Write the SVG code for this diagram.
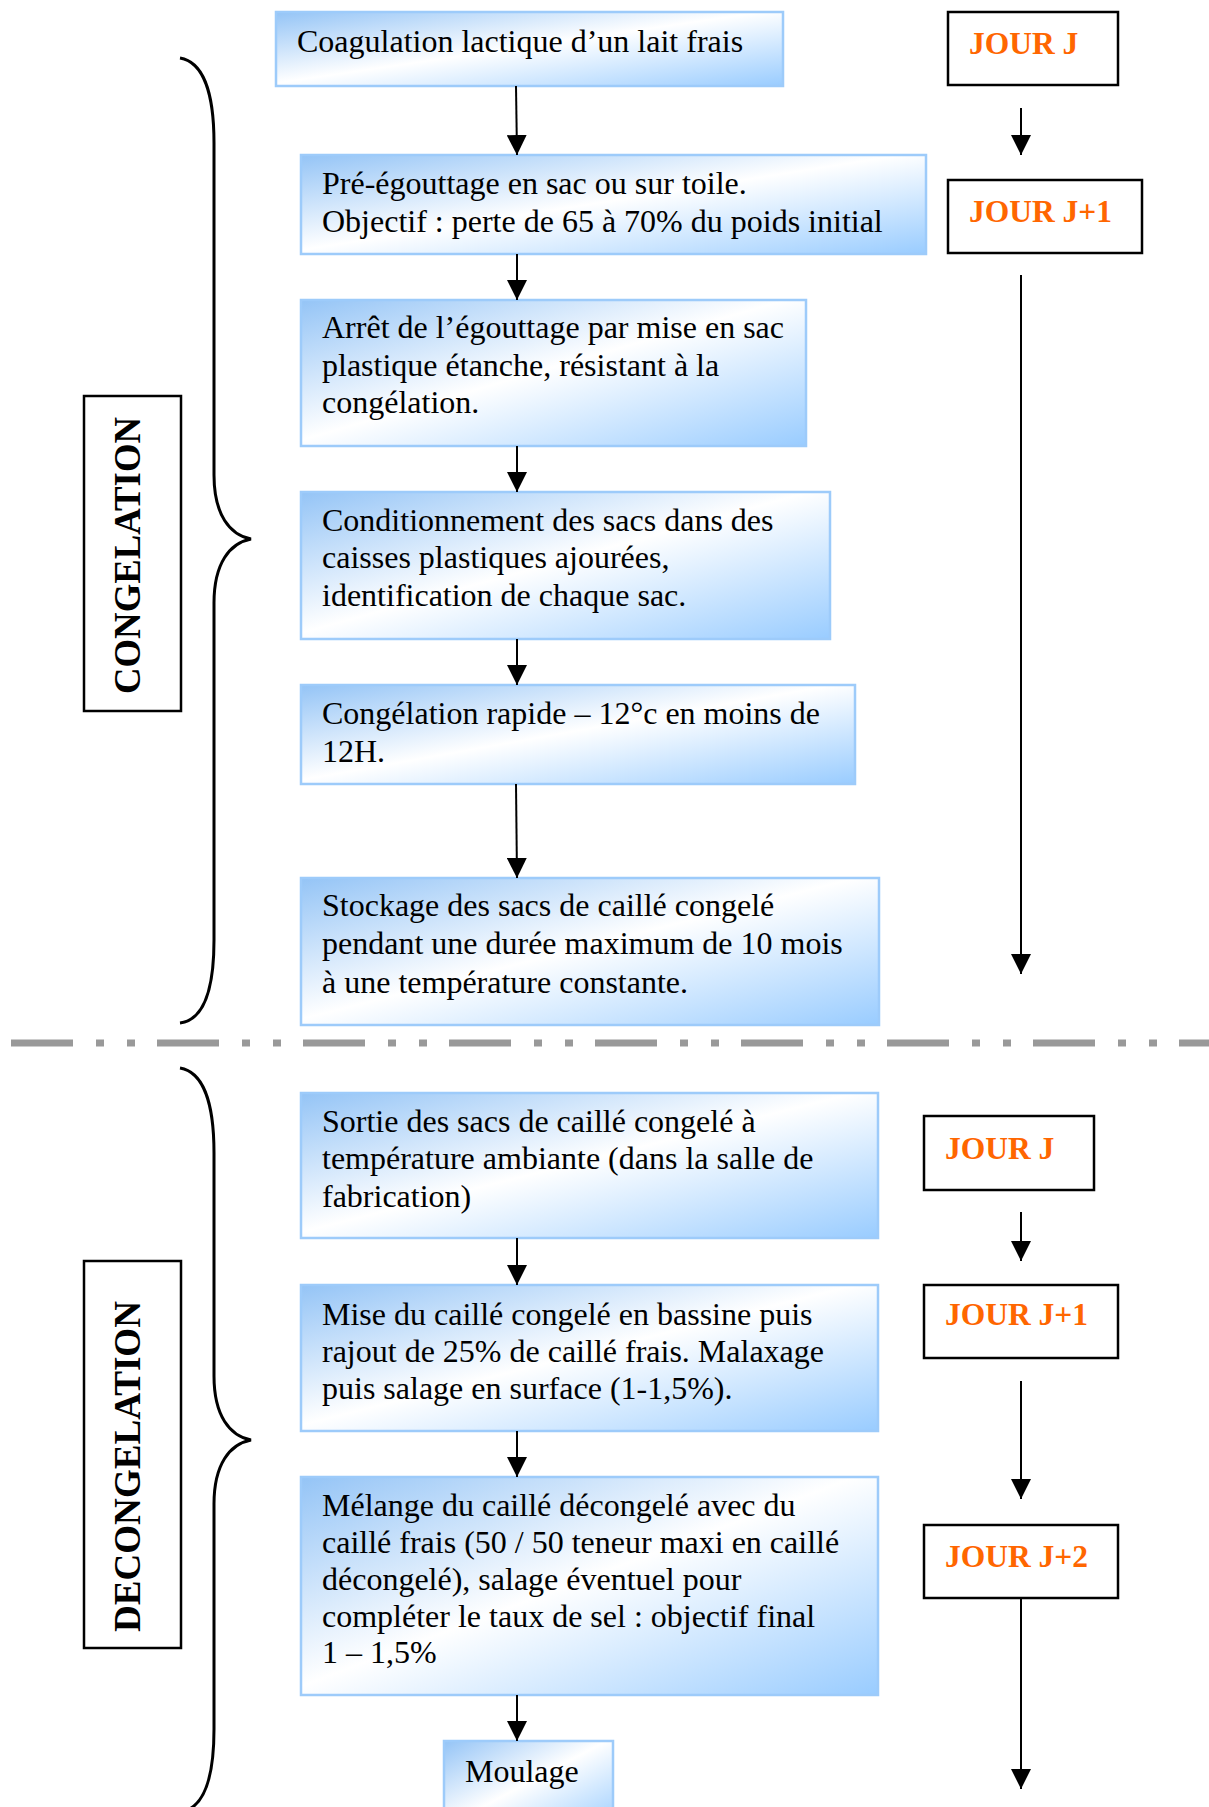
<svg xmlns="http://www.w3.org/2000/svg" width="1209" height="1807" viewBox="0 0 1209 1807">
<defs>
<linearGradient id="g" x1="0" y1="0" x2="1" y2="1">
<stop offset="0" stop-color="#94C4F6"/>
<stop offset="0.48" stop-color="#FFFFFF"/>
<stop offset="1" stop-color="#99CCFF"/>
</linearGradient>
<marker id="ah" markerUnits="userSpaceOnUse" markerWidth="20" markerHeight="20" refX="20" refY="10" orient="auto" viewBox="0 0 20 20">
<path d="M0,0 L20,10 L0,20 z" fill="#000"/>
</marker>
</defs>
<style>
.step{fill:url(#g);stroke:#9DCBFA;stroke-width:2.5}
.t{font-family:"Liberation Serif","Times New Roman",serif;font-size:32px;fill:#000}
.day{fill:#fff;stroke:#000;stroke-width:2.5}
.dt{font-family:"Liberation Serif","Times New Roman",serif;font-size:31.5px;font-weight:bold;fill:#FF6600}
.lab{font-family:"Liberation Serif","Times New Roman",serif;font-size:38px;font-weight:bold;fill:#000}
.lb{fill:#fff;stroke:#000;stroke-width:2.5}
.ar{stroke:#000;stroke-width:2;fill:none;marker-end:url(#ah)}
.br{stroke:#000;stroke-width:3;fill:none}
.sep{stroke:#999999;stroke-width:7;stroke-dasharray:62 23 8 23 8 22;fill:none}
</style>

<g id="separator"><line class="sep" x1="11" y1="1043" x2="1209" y2="1043"/></g>

<g id="braces">
<path class="br" d="M180,58 C204,62 214,95 214,143 L214,475 C214,515 230,535 251,539 C230,543 214,563 214,603 L214,940 C214,988 204,1020 180,1023"/>
<path class="br" d="M180,1068 C204,1072 214,1105 214,1153 L214,1376 C214,1416 230,1436 251,1440 C230,1444 214,1464 214,1504 L214,1729 C214,1777 204,1809 180,1812"/>
</g>

<g id="label-congelation">
<rect class="lb" x="84" y="396" width="97" height="315"/>
<text class="lab" transform="translate(140,694) rotate(-90)" textLength="277" lengthAdjust="spacingAndGlyphs">CONGELATION</text>
</g>
<g id="label-decongelation">
<rect class="lb" x="84" y="1261" width="97" height="387"/>
<text class="lab" transform="translate(140,1632) rotate(-90)" textLength="331" lengthAdjust="spacingAndGlyphs">DECONGELATION</text>
</g>

<g id="n1"><rect class="step" x="276" y="12" width="507" height="74"/>
<text class="t" x="297" y="52">Coagulation lactique d’un lait frais</text></g>

<g id="n2"><rect class="step" x="301" y="155" width="625" height="99"/>
<text class="t"><tspan x="322" y="194">Pré-égouttage en sac ou sur toile.</tspan><tspan x="322" y="232">Objectif : perte de 65 à 70% du poids initial</tspan></text></g>

<g id="n3"><rect class="step" x="301" y="300" width="505" height="146"/>
<text class="t"><tspan x="322" y="338">Arrêt de l’égouttage par mise en sac</tspan><tspan x="322" y="375.5">plastique étanche, résistant à la</tspan><tspan x="322" y="413">congélation.</tspan></text></g>

<g id="n4"><rect class="step" x="301" y="492" width="529" height="147"/>
<text class="t"><tspan x="322" y="531">Conditionnement des sacs dans des</tspan><tspan x="322" y="568">caisses plastiques ajourées,</tspan><tspan x="322" y="606">identification de chaque sac.</tspan></text></g>

<g id="n5"><rect class="step" x="301" y="685" width="554" height="99"/>
<text class="t"><tspan x="322" y="724">Congélation rapide – 12°c en moins de</tspan><tspan x="322" y="762">12H.</tspan></text></g>

<g id="n6"><rect class="step" x="301" y="878" width="578" height="147"/>
<text class="t"><tspan x="322" y="916">Stockage des sacs de caillé congelé</tspan><tspan x="322" y="954">pendant une durée maximum de 10 mois</tspan><tspan x="322" y="993">à une température constante.</tspan></text></g>

<g id="n7"><rect class="step" x="301" y="1093" width="577" height="145"/>
<text class="t"><tspan x="322" y="1132">Sortie des sacs de caillé congelé à</tspan><tspan x="322" y="1168.5">température ambiante (dans la salle de</tspan><tspan x="322" y="1207">fabrication)</tspan></text></g>

<g id="n8"><rect class="step" x="301" y="1285" width="577" height="146"/>
<text class="t"><tspan x="322" y="1324.5">Mise du caillé congelé en bassine puis</tspan><tspan x="322" y="1361.5">rajout de 25% de caillé frais. Malaxage</tspan><tspan x="322" y="1399">puis salage en surface (1-1,5%).</tspan></text></g>

<g id="n9"><rect class="step" x="301" y="1477" width="577" height="218"/>
<text class="t"><tspan x="322" y="1516">Mélange du caillé décongelé avec du</tspan><tspan x="322" y="1552.5">caillé frais (50 / 50 teneur maxi en caillé</tspan><tspan x="322" y="1590">décongelé), salage éventuel pour</tspan><tspan x="322" y="1626.5">compléter le taux de sel : objectif final</tspan><tspan x="322" y="1663">1 – 1,5%</tspan></text></g>

<g id="n10"><rect class="step" x="444" y="1741" width="169" height="90"/>
<text class="t" x="465" y="1782">Moulage</text></g>

<g id="d1"><rect class="day" x="948" y="12" width="170" height="73"/><text class="dt" x="969" y="54">JOUR J</text></g>
<g id="d2"><rect class="day" x="948" y="180" width="194" height="73"/><text class="dt" x="969" y="222">JOUR J+1</text></g>
<g id="d3"><rect class="day" x="924" y="1116" width="170" height="74"/><text class="dt" x="945" y="1159">JOUR J</text></g>
<g id="d4"><rect class="day" x="924" y="1285" width="194" height="73"/><text class="dt" x="945" y="1325">JOUR J+1</text></g>
<g id="d5"><rect class="day" x="924" y="1525" width="194" height="73"/><text class="dt" x="945" y="1567">JOUR J+2</text></g>

<g id="connectors">
<line class="ar" x1="516" y1="86" x2="517" y2="155"/>
<line class="ar" x1="517" y1="254" x2="517" y2="300"/>
<line class="ar" x1="517" y1="446" x2="517" y2="492"/>
<line class="ar" x1="517" y1="639" x2="517" y2="685"/>
<line class="ar" x1="516" y1="784" x2="517" y2="878"/>
<line class="ar" x1="517" y1="1238" x2="517" y2="1285"/>
<line class="ar" x1="517" y1="1431" x2="517" y2="1477"/>
<line class="ar" x1="517" y1="1695" x2="517" y2="1741"/>
<line class="ar" x1="1021" y1="108" x2="1021" y2="155"/>
<line class="ar" x1="1021" y1="275" x2="1021" y2="974"/>
<line class="ar" x1="1021" y1="1212" x2="1021" y2="1261"/>
<line class="ar" x1="1021" y1="1381" x2="1021" y2="1499"/>
<line class="ar" x1="1021" y1="1598" x2="1021" y2="1789"/>
</g>
</svg>
